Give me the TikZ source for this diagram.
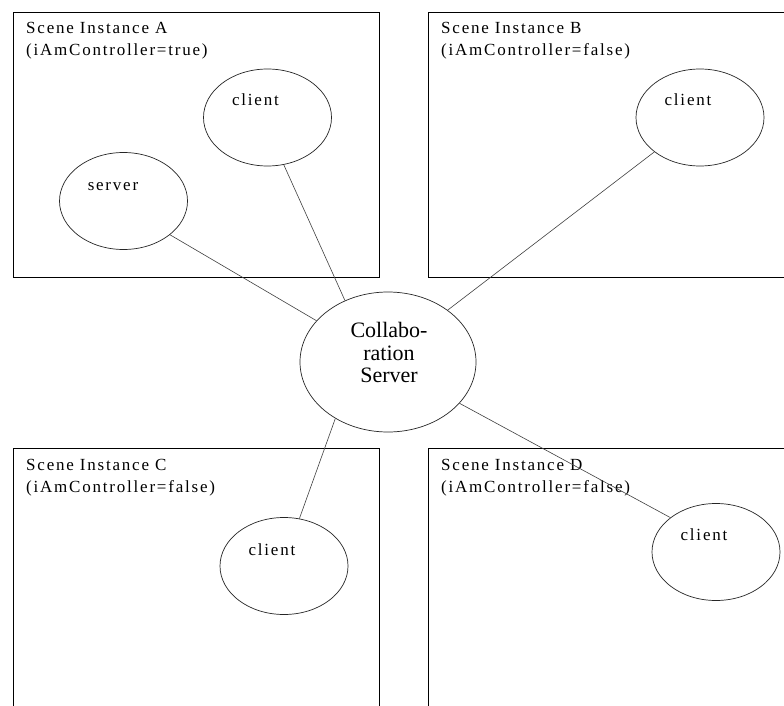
\documentclass[tikz,border=0pt]{standalone}
\usepackage{fontspec}
\setmainfont{Liberation Serif}
\newfontfamily\spacedfont[LetterSpace=10.5]{Liberation Serif}
\usetikzlibrary{shapes.geometric,calc}
\begin{document}
\begin{tikzpicture}[x=1pt,y=-1pt,
  boxline/.style={draw=black, line width=0.9pt},
  ell/.style={ellipse, draw=black!85, line width=0.7pt, inner sep=0pt, minimum width=128pt, minimum height=97pt},
  lbl/.style={inner sep=0pt, anchor=base west, font=\spacedfont\fontsize{17}{20}\selectfont, text=black},
  etext/.style={inner sep=0pt, anchor=base, font=\spacedfont\fontsize{17}{20}\selectfont, text=black},
  link/.style={draw=black!75, line width=0.6pt}]
\useasboundingbox (0,0) rectangle (784,706);
\clip (0,0) rectangle (784,706);
\fill[white] (0,0) rectangle (784,706);

% scene boxes
\draw[boxline] (13,12.5) rectangle (379,277);
\draw[boxline] (428,12.5) rectangle (800,277);
\draw[boxline] (13,448) rectangle (379,720);
\draw[boxline] (428,448) rectangle (800,720);

% box labels
\node[lbl] (la1) at (26,34) {Scene Instance A};
\node[lbl] (la2) at (26,56) {(iAmController=true)};
\node[lbl] (lb1) at (441,34) {Scene Instance B};
\node[lbl] (lb2) at (441,56) {(iAmController=false)};
\node[lbl] (lc1) at (26,470) {Scene Instance C};
\node[lbl] (lc2) at (26,492) {(iAmController=false)};
\node[lbl] (ld1) at (441,470) {Scene Instance D};
\node[lbl] (ld2) at (441,492) {(iAmController=false)};

% ellipses
\node[ell] (ca) at (267.5,117.5) {};
\node[ell] (sa) at (123.5,201) {};
\node[ell] (cb) at (700,117.5) {};
\node[ell] (cc) at (284,566) {};
\node[ell] (cd) at (716,552) {};
\node[ell, minimum width=176pt, minimum height=140pt] (cs) at (388,362) {};

% ellipse texts
\node[etext] (tca) at ($(ca.center)+(-12,-11.5)$) {client};
\node[etext] (tsa) at ($(sa.center)+(-10.5,-11)$) {server};
\node[etext] (tcb) at ($(cb.center)+(-12,-11.5)$) {client};
\node[etext] (tcc) at ($(cc.center)+(-12,-11)$) {client};
\node[etext] (tcd) at ($(cd.center)+(-12,-12)$) {client};
\node[inner sep=0pt, align=center, font=\fontsize{22}{22.7}\selectfont, text=black] (tcs) at (389,352.5) {Collabo-\\ration\\Server};

% connectors
\draw[link] (ca.-71) -- (cs.125.7);
\draw[link] (sa.-36.6) -- (cs.150);
\draw[link] (cb.-143.5) -- (cs.41.9);
\draw[link] (cc.72.6) -- (cs.-133);
\draw[link] (cd.143.5) -- (cs.-30.7);
\end{tikzpicture}
\end{document}
